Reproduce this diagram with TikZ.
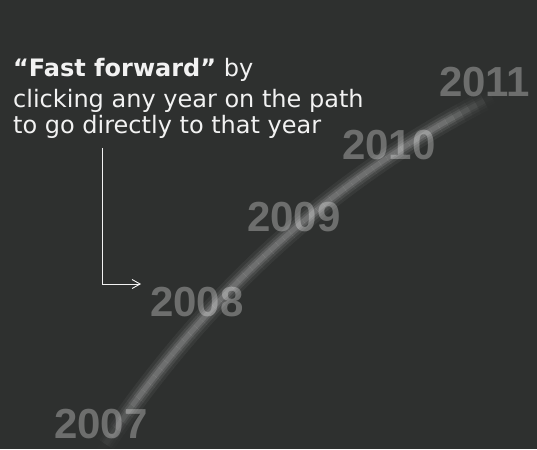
\documentclass[tikz,border=0pt]{standalone}
\usepackage{fontspec}
\setmainfont{DejaVu Sans}
\newfontfamily\yearfont{Liberation Sans}
\usetikzlibrary{arrows.meta}
\definecolor{bg}{RGB}{46,48,47}
\definecolor{txt}{RGB}{242,242,242}
\tikzset{
  yearlabel/.style={anchor=base west, inner sep=0pt, text=white, text opacity=0.3,
    font=\yearfont\bfseries\fontsize{42}{42}\selectfont},
  infotext/.style={anchor=base west, inner sep=0pt, text=txt,
    font=\fontsize{24}{28}\selectfont},
  pointer/.style={draw=txt, line width=0.9pt, -{Straight Barb[length=8pt,width=9pt]}},
  declare function={
    bx(\t)=(1-\t)^2*100+2*\t*(1-\t)*258+\t^2*492;
    by(\t)=(1-\t)^2*452+2*\t*(1-\t)*214+\t^2*97;
    fo(\t)=max(0,min(1,\t/0.12,(1-\t)/0.1));
  }
}
\begin{document}
\begin{tikzpicture}[x=1pt,y=-1pt]
\fill[bg] (0,0) rectangle (537,449);
\useasboundingbox (0,0) rectangle (537,449);
% glowing path
\foreach \w/\o in {20/0.05,14/0.08,9/0.11,5/0.12}{
  \foreach \i in {0,...,59}{
    \pgfmathsetmacro\ta{\i/60}
    \pgfmathsetmacro\tb{(\i+1)/60}
    \pgfmathsetmacro\tm{(\i+0.5)/60}
    \pgfmathsetmacro\op{\o*fo(\tm)}
    \draw[white, line width=\w, line cap=butt, draw opacity=\op]
      ({bx(\ta)},{by(\ta)}) -- ({bx(\tb)},{by(\tb)});
  }
}
% years
\node[yearlabel] (y2007) at (54,438) {2007};
\node[yearlabel] (y2008) at (150,316) {2008};
\node[yearlabel] (y2009) at (247,231) {2009};
\node[yearlabel] (y2010) at (342,160) {2010};
\node[yearlabel] (y2011) at (439,97) {2011};
% text
\node[infotext] (l1) at (13,77) {\textbf{“Fast forward”} by};
\node[infotext] (l2) at (13,107.5) {clicking any year on the path};
\node[infotext] (l3) at (13,134) {to go directly to that year};
% pointer
\coordinate (p1) at (102,148);
\coordinate (p2) at (141,284);
\draw[pointer] (p1) |- (p2);
\end{tikzpicture}
\end{document}
